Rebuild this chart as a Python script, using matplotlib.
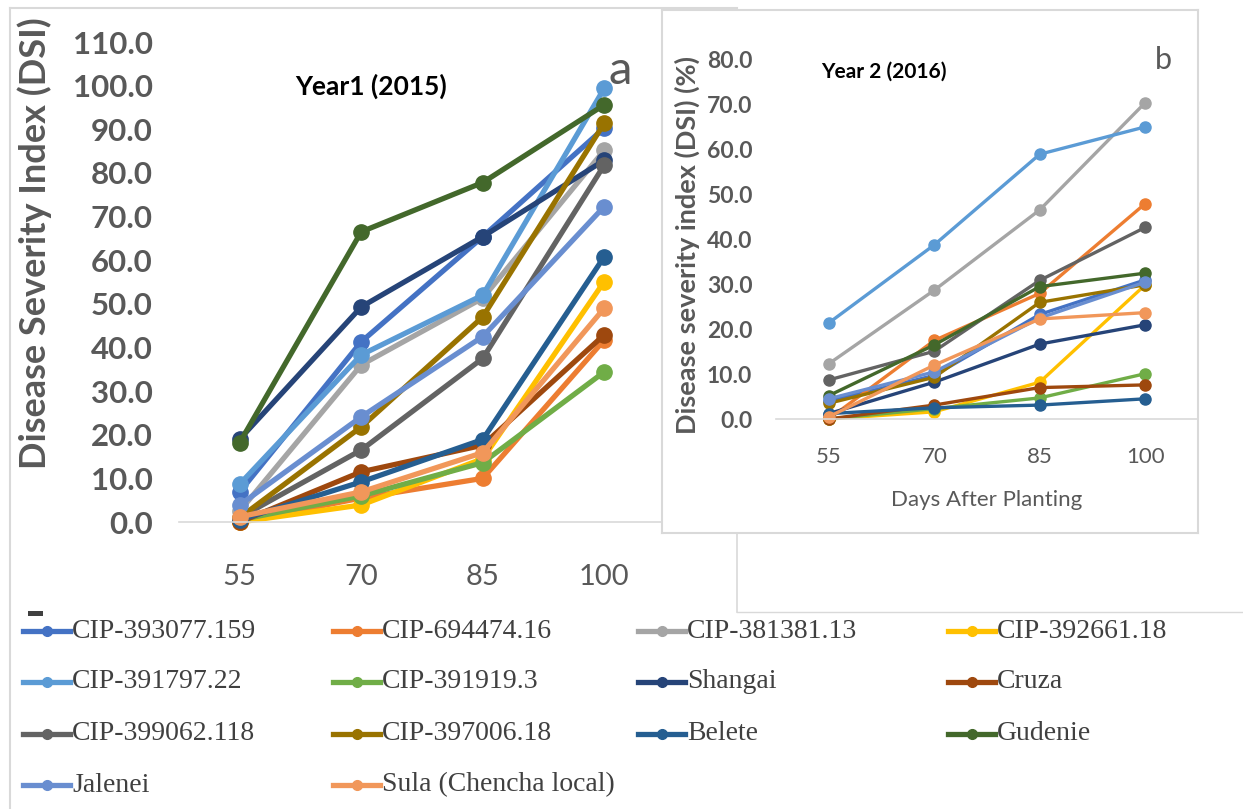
import numpy as np
import matplotlib
matplotlib.use("Agg")
import matplotlib.pyplot as plt
from matplotlib.lines import Line2D
from matplotlib.patches import Rectangle

# ---- data ----
days = ["55", "70", "85", "100"]
names = ["CIP-393077.159", "CIP-694474.16", "CIP-381381.13", "CIP-392661.18",
         "CIP-391797.22", "CIP-391919.3", "Shangai", "Cruza",
         "CIP-399062.118", "CIP-397006.18", "Belete", "Gudenie",
         "Jalenei", "Sula (Chencha local)"]
colors = ["#4472C4", "#ED7D31", "#A5A5A5", "#FFC000",
          "#5B9BD5", "#70AD47", "#264478", "#9E480E",
          "#636363", "#997300", "#255E91", "#43682B",
          "#698ED0", "#F1975A"]

year1 = [
    [6.9, 41.3, 65.4, 90.3],    # CIP-393077.159
    [0.0, 5.5, 10.0, 41.7],     # CIP-694474.16
    [2.5, 36.0, 51.3, 85.2],    # CIP-381381.13
    [0.0, 3.9, 14.5, 55.1],     # CIP-392661.18
    [8.7, 38.3, 52.0, 99.4],    # CIP-391797.22
    [0.5, 6.0, 13.6, 34.4],     # CIP-391919.3
    [19.0, 49.3, 65.4, 82.9],   # Shangai
    [0.0, 11.5, 17.6, 42.9],    # Cruza
    [1.0, 16.5, 37.5, 81.8],    # CIP-399062.118
    [1.0, 21.8, 47.0, 91.4],    # CIP-397006.18
    [0.5, 9.2, 18.9, 60.8],     # Belete
    [18.2, 66.5, 77.8, 95.6],   # Gudenie
    [3.9, 24.1, 42.5, 72.3],    # Jalenei
    [1.2, 6.9, 15.9, 49.0],     # Sula (Chencha local)
]

year2 = [
    [4.0, 9.7, 23.3, 31.0],
    [0.0, 17.5, 28.0, 48.0],
    [12.3, 28.7, 46.6, 70.5],
    [0.0, 1.6, 8.2, 29.9],
    [21.4, 38.8, 59.0, 65.1],
    [0.0, 2.3, 4.7, 10.1],
    [1.2, 8.2, 16.7, 21.0],
    [0.0, 3.1, 7.0, 7.6],
    [8.7, 15.1, 30.9, 42.7],
    [3.5, 9.3, 26.0, 29.9],
    [1.2, 2.5, 3.1, 4.5],
    [5.2, 16.5, 29.5, 32.5],
    [4.5, 10.5, 22.5, 30.5],
    [0.5, 12.0, 22.3, 23.7],
]

W, H = 1243, 809
GRAY = "#595959"
LINEC = "#D9D9D9"
FONT = "Lato"

fig = plt.figure(figsize=(W / 100, H / 100), dpi=100)


def fx(x):
    return x / W


def fy(y):
    return 1 - y / H


def px_axes(x0, y0, x1, y1):
    return fig.add_axes([fx(x0), fy(y1), (x1 - x0) / W, (y1 - y0) / H])


def style_axes(ax, ymax, step, ysize, xsize, pad):
    ax.set_xlim(-0.5, 3.5)
    ax.set_ylim(0, ymax)
    ax.set_xticks(range(len(days)))
    ax.set_xticklabels(days, fontsize=xsize, color=GRAY, family=FONT)
    ax.set_yticks(np.arange(0, ymax + 1, step))
    ax.set_yticklabels(["%.1f" % v for v in np.arange(0, ymax + 1, step)],
                       fontsize=ysize, color=GRAY, family=FONT, fontweight="bold")
    ax.tick_params(length=0, axis="y", pad=pad)
    for s in ["top", "right", "left"]:
        ax.spines[s].set_visible(False)
    ax.spines["bottom"].set_color(LINEC)
    ax.spines["bottom"].set_linewidth(1.2)
    ax.patch.set_alpha(0)


# frame pieces of the left chart
def fig_line(xs, ys, **kw):
    fig.add_artist(Line2D([fx(v) for v in xs], [fy(v) for v in ys],
                          transform=fig.transFigure, **kw))


fig_line([10, 10], [8, 809], color=LINEC, lw=1.5)
fig_line([10, 737], [8, 8], color=LINEC, lw=1.5)
fig_line([737, 737], [533, 612], color=LINEC, lw=1.2)
fig_line([737, 1243], [612, 612], color=LINEC, lw=1)

# ---- left panel: year 1 ----
ax1 = px_axes(179, 42, 665, 522)
for vals, c in zip(year1, colors):
    ax1.plot(range(len(days)), vals, color=c, lw=3.8, marker="o", ms=11, clip_on=False)
style_axes(ax1, 110, 10, 22.5, 21, 19)
ax1.tick_params(axis="x", length=0, pad=30)
ax1.set_zorder(1)

fig.text(fx(35), fy(243), "Disease Severity Index (DSI)", rotation=90, ha="center", va="center",
         fontsize=26, color=GRAY, family=FONT, fontweight="bold")
fig.text(fx(371), fy(86), "Year1 (2015)", ha="center", va="center",
         fontsize=19, color="black", family=FONT, fontweight="bold")
fig.text(fx(620), fy(71), "a", ha="center", va="center",
         fontsize=34, color=GRAY, family=FONT)

# ---- right panel: year 2 (inset box) ----
box = px_axes(662, 10, 1198, 533)
box.set_xticks([])
box.set_yticks([])
for s in box.spines.values():
    s.set_color(LINEC)
    s.set_linewidth(1.5)
box.set_facecolor("white")
box.set_zorder(2)

ax2 = px_axes(776, 60, 1198, 419)
for vals, c in zip(year2, colors):
    ax2.plot(range(len(days)), vals, color=c, lw=2.4, marker="o", ms=8, clip_on=False)
style_axes(ax2, 80, 10, 16.5, 16, 17)
ax2.tick_params(axis="x", length=0, pad=20)
ax2.set_zorder(3)

fig.text(fx(687), fy(245), "Disease severity index (DSI) (%)", rotation=90, ha="center",
         va="center", fontsize=19.5, color=GRAY, family=FONT, fontweight="bold", zorder=5)
fig.text(fx(884), fy(72), "Year 2 (2016)", ha="center", va="center",
         fontsize=15, color="black", family=FONT, fontweight="bold", zorder=5)
fig.text(fx(1163), fy(60), "b", ha="center", va="center",
         fontsize=22, color=GRAY, family=FONT, zorder=5)
fig.text(fx(987), fy(500), "Days After Planting", ha="center", va="center",
         fontsize=16, color=GRAY, family=FONT, zorder=5)

# ---- legend ----
col_x = [23, 333, 638, 948]
row_y = [631, 682, 734, 785]
for i, (name, c) in enumerate(zip(names, colors)):
    x0 = col_x[i % 4]
    y0 = row_y[i // 4]
    fig_line([x0, x0 + 47], [y0, y0], color=c, lw=3.8)
    fig_line([x0 + 23.5], [y0], color=c, marker="o", ms=7, lw=0)
    fig.text(fx(x0 + 49), fy(y0), name, ha="left", va="center", fontsize=20,
             color="#404040", family="Liberation Serif")

# small leftover glyph above the first legend entry
fig.add_artist(Rectangle((fx(28), fy(616)), 15 / W, 5 / H, transform=fig.transFigure,
                         color="#404040", lw=0))

fig.savefig("out.png", dpi=100, facecolor="white")
